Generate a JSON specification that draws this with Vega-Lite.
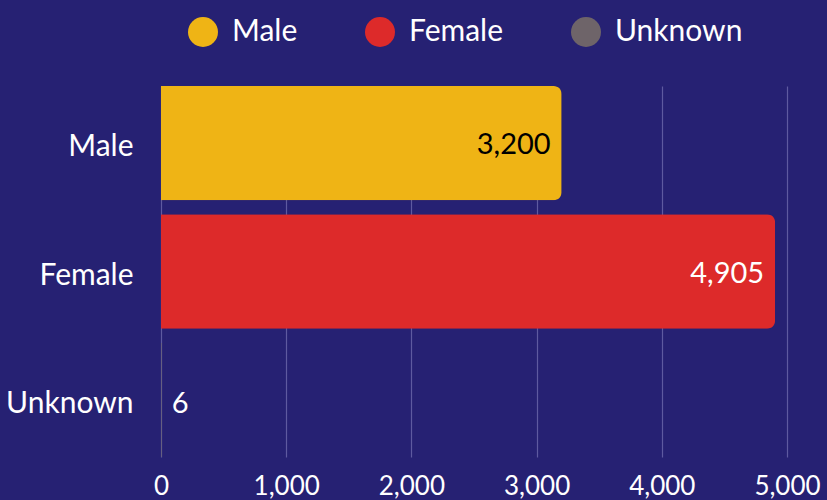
{
  "$schema": "https://vega.github.io/schema/vega-lite/v6.json",
  "width": 626,
  "height": 371,
  "autosize": {"type": "none"},
  "padding": {"left": 161, "top": 86, "right": 40, "bottom": 43},
  "background": "#262173",
  "config": {
    "font": "Lato",
    "view": {"stroke": null},
    "axis": {"labelFont": "Lato", "labelColor": "#ffffff", "domain": false, "ticks": false, "title": null}
  },
  "data": {
    "values": [
      {"gender": "Male", "count": 3200},
      {"gender": "Female", "count": 4905},
      {"gender": "Unknown", "count": 6}
    ]
  },
  "encoding": {
    "y": {
      "field": "gender",
      "type": "nominal",
      "sort": ["Male", "Female", "Unknown"],
      "scale": {"paddingInner": 0.11, "paddingOuter": 0},
      "axis": {"labelFontSize": 30, "labelPadding": 28, "labelOffset": 4, "grid": false}
    },
    "x": {
      "field": "count",
      "type": "quantitative",
      "scale": {"domain": [0, 5000], "nice": false},
      "axis": {
        "values": [0, 1000, 2000, 3000, 4000, 5000],
        "format": ",d",
        "labelFontSize": 26,
        "labelPadding": 16,
        "grid": true,
        "gridColor": "#5e5aa0",
        "gridWidth": 1.2,
        "labelFlush": false
      }
    }
  },
  "layer": [
    {
      "mark": {"type": "bar", "cornerRadiusEnd": 8},
      "encoding": {
        "color": {
          "field": "gender",
          "type": "nominal",
          "sort": ["Male", "Female", "Unknown"],
          "scale": {"domain": ["Male", "Female", "Unknown"], "range": ["#EFB415", "#DD2A2A", "#6E6469"]},
          "legend": {
            "title": null,
            "orient": "none",
            "direction": "horizontal",
            "legendX": 27,
            "legendY": -69,
            "symbolType": "circle",
            "symbolSize": 900,
            "symbolOpacity": 1,
            "symbolStrokeWidth": 0,
            "labelColor": "#ffffff",
            "labelFontSize": 30,
            "labelFont": "Lato",
            "labelOffset": 14,
            "columnPadding": 67
          }
        }
      }
    },
    {
      "transform": [{"filter": "datum.count > 100"}],
      "mark": {"type": "text", "align": "right", "baseline": "middle", "dx": -11, "dy": 2, "fontSize": 29},
      "encoding": {
        "text": {"field": "count", "type": "quantitative", "format": ",d"},
        "color": {"condition": {"test": "datum.gender === 'Male'", "value": "#000000"}, "value": "#ffffff"}
      }
    },
    {
      "transform": [{"filter": "datum.count <= 100"}],
      "mark": {"type": "text", "align": "left", "baseline": "middle", "dx": 10, "dy": 4, "fontSize": 29, "color": "#ffffff"},
      "encoding": {
        "text": {"field": "count", "type": "quantitative", "format": ",d"}
      }
    }
  ]
}
